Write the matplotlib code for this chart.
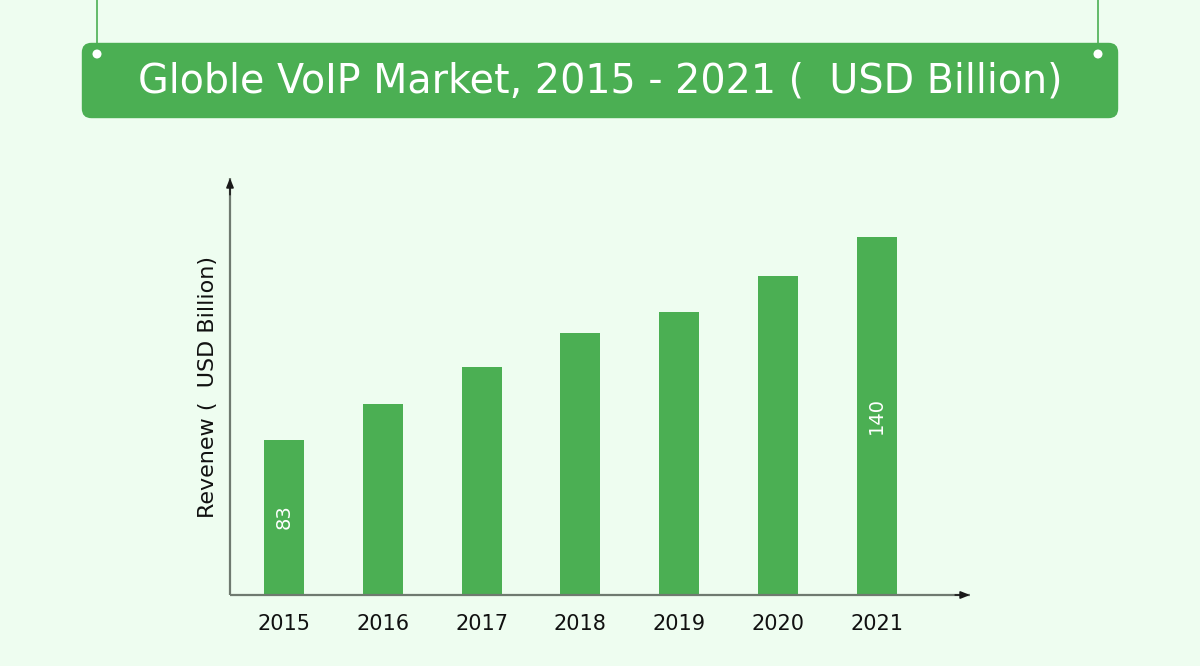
import matplotlib
matplotlib.use("Agg")
import matplotlib.pyplot as plt
from matplotlib.patches import FancyBboxPatch, Ellipse
from matplotlib.lines import Line2D

years = ["2015", "2016", "2017", "2018", "2019", "2020", "2021"]
revenue = [83, 93, 103.5, 113, 119, 129, 140]
shown_labels = {0: "83", 6: "140"}
title = "Globle VoIP Market, 2015 - 2021 (  USD Billion)"
ylabel = "Revenew (  USD Billion)"

BG = "#EEFDF0"
GREEN = "#4BAF53"
W, H = 1200, 666

plt.rcParams['font.family'] = ['DejaVu Sans']
fig = plt.figure(figsize=(12, 6.66), dpi=100, facecolor=BG)

def fx(px):
    return px / W

def fy(py):
    return 1 - py / H

# Title banner
box = FancyBboxPatch((fx(89), fy(111)), fx(1111) - fx(89), fy(50) - fy(111),
                     boxstyle="round,pad=0.006,rounding_size=0.008",
                     transform=fig.transFigure, facecolor=GREEN, edgecolor="none",
                     mutation_aspect=W / H, zorder=1)
fig.add_artist(box)
for px in (97, 1098):
    fig.add_artist(Line2D([fx(px), fx(px)], [fy(0), fy(52)], transform=fig.transFigure,
                          color=GREEN, lw=1.2, zorder=2))
    fig.add_artist(Ellipse((fx(px), fy(54)), 9 / W, 9 / H, transform=fig.transFigure,
                           facecolor="white", edgecolor="none", zorder=3))
fig.text(0.5, fy(81), title, color="white", fontsize=28.5, ha="center", va="center",
         zorder=4)

# Axes
x0, x1, ybot, ytop = 230, 970, 595, 178
ax = fig.add_axes([fx(x0), fy(ybot), fx(x1) - fx(x0), fy(ytop) - fy(ybot)])
ax.set_facecolor("none")
for s in ax.spines.values():
    s.set_visible(False)

step = 98.8
left = -(284 - x0) / step
right = (x1 - 284) / step
ax.set_xlim(left, right)
a = 3.561
v0 = 83 - (ybot - 440) / a
ax.set_ylim(v0, v0 + (ybot - ytop) / a)

xs = list(range(len(years)))
ax.bar(xs, [r - v0 for r in revenue], bottom=v0, width=40 / step, color=GREEN)
label_pos = {0: v0 + (ybot - 517) / a, 6: v0 + (ybot - 415) / a}
for i, lab in shown_labels.items():
    ax.text(i, label_pos[i], lab, rotation=90, color="white", fontsize=14,
            ha="center", va="center")

ax.set_xticks(xs)
ax.set_xticklabels(years, fontsize=15, color="#111111")
ax.tick_params(axis="x", length=0, pad=14)
ax.set_yticks([])
ax.set_ylabel(ylabel, fontsize=16, color="#111111", labelpad=9)

# axis lines (grey) with small black arrowheads
ax.plot([0, 1], [0, 0], transform=ax.transAxes, color="#6f7a70", lw=1.6,
        clip_on=False, solid_capstyle="butt")
ax.plot([0, 0], [0, 1], transform=ax.transAxes, color="#6f7a70", lw=1.6,
        clip_on=False, solid_capstyle="butt")
ax.annotate("", xy=(1, 0), xytext=(0.98, 0), xycoords="axes fraction",
            arrowprops=dict(arrowstyle="-|>,head_length=0.55,head_width=0.22",
                            color="#1a1a1a", lw=1.2, shrinkA=0, shrinkB=0))
ax.annotate("", xy=(0, 1), xytext=(0, 0.96), xycoords="axes fraction",
            arrowprops=dict(arrowstyle="-|>,head_length=0.55,head_width=0.22",
                            color="#1a1a1a", lw=1.2, shrinkA=0, shrinkB=0))

fig.savefig("out.png", dpi=100, facecolor=BG)
